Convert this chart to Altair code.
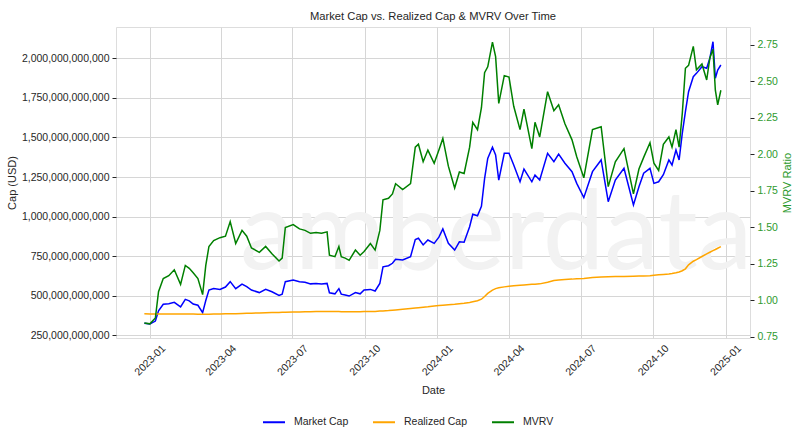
import altair as alt
import pandas as pd

# ---- data (caps in billions of USD) ----
dates = [
    "2022-12-25", "2023-01-01", "2023-01-08", "2023-01-12", "2023-01-18", "2023-01-25",
    "2023-02-01", "2023-02-09", "2023-02-15", "2023-02-20", "2023-02-25", "2023-03-03",
    "2023-03-09", "2023-03-13", "2023-03-17", "2023-03-23", "2023-03-31", "2023-04-07",
    "2023-04-13", "2023-04-20", "2023-04-28", "2023-05-04", "2023-05-10", "2023-05-20",
    "2023-05-28", "2023-06-05", "2023-06-14", "2023-06-18", "2023-06-22", "2023-07-02",
    "2023-07-10", "2023-07-17", "2023-07-24", "2023-07-31", "2023-08-07", "2023-08-14",
    "2023-08-17", "2023-08-24", "2023-08-29", "2023-09-01", "2023-09-06", "2023-09-11",
    "2023-09-19", "2023-09-25", "2023-09-30", "2023-10-08", "2023-10-14", "2023-10-20",
    "2023-10-24", "2023-10-31", "2023-11-05", "2023-11-09", "2023-11-18", "2023-11-28",
    "2023-12-04", "2023-12-08", "2023-12-14", "2023-12-20", "2023-12-28", "2024-01-03",
    "2024-01-08", "2024-01-15", "2024-01-23", "2024-01-29", "2024-02-04", "2024-02-11",
    "2024-02-15", "2024-02-21", "2024-02-26", "2024-03-01", "2024-03-05", "2024-03-11",
    "2024-03-15", "2024-03-19", "2024-03-26", "2024-04-01", "2024-04-07", "2024-04-15",
    "2024-04-20", "2024-04-30", "2024-05-04", "2024-05-10", "2024-05-20", "2024-05-28",
    "2024-06-03", "2024-06-11", "2024-06-20", "2024-06-26", "2024-07-05", "2024-07-16",
    "2024-07-27", "2024-08-05", "2024-08-14", "2024-08-25", "2024-09-06", "2024-09-13",
    "2024-09-19", "2024-09-27", "2024-10-02", "2024-10-08", "2024-10-14", "2024-10-21",
    "2024-10-25", "2024-10-30", "2024-11-03", "2024-11-07", "2024-11-11", "2024-11-15",
    "2024-11-21", "2024-11-25", "2024-12-02", "2024-12-08", "2024-12-12", "2024-12-16",
    "2024-12-19", "2024-12-22", "2024-12-26",
]

market_cap_b = [
    326, 322, 340, 405, 446, 450,
    458, 430, 477, 468, 448, 440,
    393, 470, 536, 545, 540, 555,
    589, 545, 574, 557, 536, 520,
    540, 525, 502, 510, 589, 599,
    588, 585, 575, 578, 574, 578,
    519, 512, 545, 510, 505, 498,
    520, 512, 536, 540, 530, 578,
    683, 690, 705, 730, 726, 747,
    855, 863, 821, 852, 831, 870,
    922, 831, 789, 841, 838, 936,
    1015, 1005, 1065, 1240, 1368, 1438,
    1390, 1231, 1400, 1400, 1326, 1220,
    1300, 1220, 1263, 1231, 1400, 1347,
    1395, 1337, 1284, 1210, 1120, 1284,
    1358, 1094, 1231, 1305, 1073, 1189,
    1274, 1305, 1210, 1220, 1265, 1358,
    1326, 1421, 1358, 1526, 1663, 1789,
    1884, 1905, 1947, 1937, 2000, 2105,
    1874, 1926, 1958,
]

realized_cap_b = [
    386, 385, 384, 384, 384, 384,
    384, 384, 384, 384, 384, 383,
    383, 383, 383, 384, 385, 386,
    386, 387, 388, 389, 390, 391,
    393, 394, 394, 395, 395, 397,
    398, 399, 399, 400, 400, 400,
    400, 400, 400, 399, 399, 399,
    399, 399, 400, 400, 401, 403,
    404, 406, 408, 410, 414, 419,
    422, 424, 427, 430, 435, 438,
    440, 443, 446, 449, 452, 458,
    462, 468, 478, 495, 515, 535,
    545, 550, 556, 560, 563, 566,
    568, 572, 573, 575, 585, 596,
    600, 603, 605, 607, 609, 615,
    619, 620, 621, 622, 623, 624,
    625, 627, 630, 632, 634, 637,
    640, 645, 650, 658, 670, 695,
    718, 728, 748, 765, 775, 785,
    792, 800, 810,
]

mvrv_ratio = [
    0.845, 0.84, 0.88, 1.06, 1.15, 1.17,
    1.21, 1.11, 1.24, 1.22, 1.19, 1.15,
    1.04, 1.24, 1.37, 1.41, 1.43, 1.44,
    1.54, 1.39, 1.48, 1.44, 1.36, 1.33,
    1.37, 1.32, 1.27, 1.29, 1.50, 1.52,
    1.49, 1.48, 1.46, 1.465, 1.46, 1.47,
    1.31, 1.30, 1.37, 1.30, 1.29, 1.275,
    1.345, 1.31, 1.335, 1.39, 1.345, 1.48,
    1.69, 1.70, 1.73, 1.80, 1.76, 1.80,
    2.05, 2.07, 1.95, 2.03, 1.94, 2.03,
    2.11, 1.92, 1.77, 1.88, 1.87, 2.05,
    2.22, 2.17, 2.32, 2.56, 2.60, 2.77,
    2.67, 2.35, 2.54, 2.53, 2.33, 2.17,
    2.31, 2.04, 2.22, 2.12, 2.43, 2.30,
    2.34, 2.21, 2.10, 1.985, 1.84, 2.17,
    2.19, 1.78, 1.95, 2.04, 1.73, 1.90,
    1.98, 2.08, 1.94, 1.89, 2.07, 2.12,
    2.05, 2.17, 2.05, 2.28, 2.59, 2.61,
    2.74, 2.58, 2.62, 2.51, 2.66, 2.72,
    2.44, 2.34, 2.44,
]

cap_ticks_b = [250, 500, 750, 1000, 1250, 1500, 1750, 2000]
mvrv_ticks = [0.75, 1.00, 1.25, 1.50, 1.75, 2.00, 2.25, 2.50, 2.75]
series_names = ["Market Cap", "Realized Cap", "MVRV"]
series_colors = ["#0000ff", "#ffa500", "#008000"]

assert len(dates) == len(market_cap_b) == len(realized_cap_b) == len(mvrv_ratio)

df = pd.DataFrame({
    "Date": pd.to_datetime(dates),
    "Market Cap": [v * 1e9 for v in market_cap_b],
    "Realized Cap": [v * 1e9 for v in realized_cap_b],
    "MVRV": mvrv_ratio,
})

FONT = "Liberation Sans"
TXT = "#262626"
GREEN_TXT = "#2e9a2e"

x_enc = alt.X(
    "Date:T",
    title="Date",
    scale=alt.Scale(domain=[alt.DateTime(year=2022, month=11, date=19),
                            alt.DateTime(year=2025, month=2, date=1)]),
    axis=alt.Axis(
        values=[alt.DateTime(year=y, month=m, date=1)
                for (y, m) in [(2023, 1), (2023, 4), (2023, 7), (2023, 10), (2024, 1),
                               (2024, 4), (2024, 7), (2024, 10), (2025, 1)]],
        format="%Y-%m", labelAngle=315, labelAlign="center", labelBaseline="middle",
        labelPadding=22, ticks=False, domain=False, grid=True, gridColor="#d6d6d6",
        titlePadding=7, labelFontSize=10.5, titleFontSize=11,
        titleFontWeight="normal", labelFont=FONT, titleFont=FONT,
        labelColor=TXT, titleColor=TXT,
    ),
)

color_enc = alt.Color(
    "series:N",
    scale=alt.Scale(domain=series_names, range=series_colors),
    legend=alt.Legend(
        title=None, orient="none", direction="horizontal", legendX=146, legendY=383,
        symbolType="stroke", symbolSize=484, symbolStrokeWidth=2, labelOffset=8,
        columnPadding=20, labelFontSize=10.5, labelFont=FONT, labelColor=TXT,
    ),
)

watermark = alt.Chart(pd.DataFrame({"t": ["amberdata"]})).mark_text(
    align="left", baseline="alphabetic", fontSize=110, font="Lato",
    color="#f2f2f2",
).encode(text="t:N", x=alt.value(124), y=alt.value(242))

caps = alt.Chart(df).transform_fold(
    ["Market Cap", "Realized Cap"], as_=["series", "value"]
).mark_line(strokeWidth=1.5).encode(
    x=x_enc,
    y=alt.Y(
        "value:Q", title="Cap (USD)",
        scale=alt.Scale(domain=[233e9, 2198e9], nice=False, zero=False),
        axis=alt.Axis(values=[v * 1e9 for v in cap_ticks_b], format=",.0f",
                      orient="left", grid=True, gridColor="#d6d6d6", domain=False,
                      tickSize=4, tickColor=TXT, labelPadding=3, titlePadding=4,
                      labelFontSize=10.5, titleFontSize=11, titleFontWeight="normal",
                      labelFont=FONT, titleFont=FONT, labelColor=TXT, titleColor=TXT),
    ),
    color=color_enc,
)

mvrv_line = alt.Chart(df).transform_calculate(series="'MVRV'").mark_line(
    strokeWidth=1.5
).encode(
    x=x_enc,
    y=alt.Y(
        "MVRV:Q", title="MVRV Ratio",
        scale=alt.Scale(domain=[0.743, 2.873], nice=False, zero=False),
        axis=alt.Axis(values=mvrv_ticks, format=".2f", orient="right", grid=False,
                      domain=False, tickSize=4, tickColor=TXT, labelPadding=3,
                      labelColor=GREEN_TXT, titleColor=GREEN_TXT, titleAngle=270,
                      titleX=37, titleY=155.5, titleAlign="center",
                      titleBaseline="middle", titleFontWeight="normal",
                      labelFontSize=10.5, titleFontSize=11,
                      labelFont=FONT, titleFont=FONT),
    ),
    color=color_enc,
)

chart = alt.layer(watermark, caps, mvrv_line).resolve_scale(
    y="independent"
).properties(
    width=634, height=311,
    title=alt.TitleParams("Market Cap vs. Realized Cap & MVRV Over Time",
                          fontSize=11.2, font=FONT, color=TXT, fontWeight="normal",
                          anchor="middle", offset=5),
    autosize=alt.AutoSizeParams(type="none"),
    padding={"left": 116, "top": 27, "right": 50, "bottom": 106},
).configure_view(
    stroke="#cccccc", strokeWidth=1.2
).configure(background="white")

chart.save("out.html", embed_options={"renderer": "svg", "actions": False})
